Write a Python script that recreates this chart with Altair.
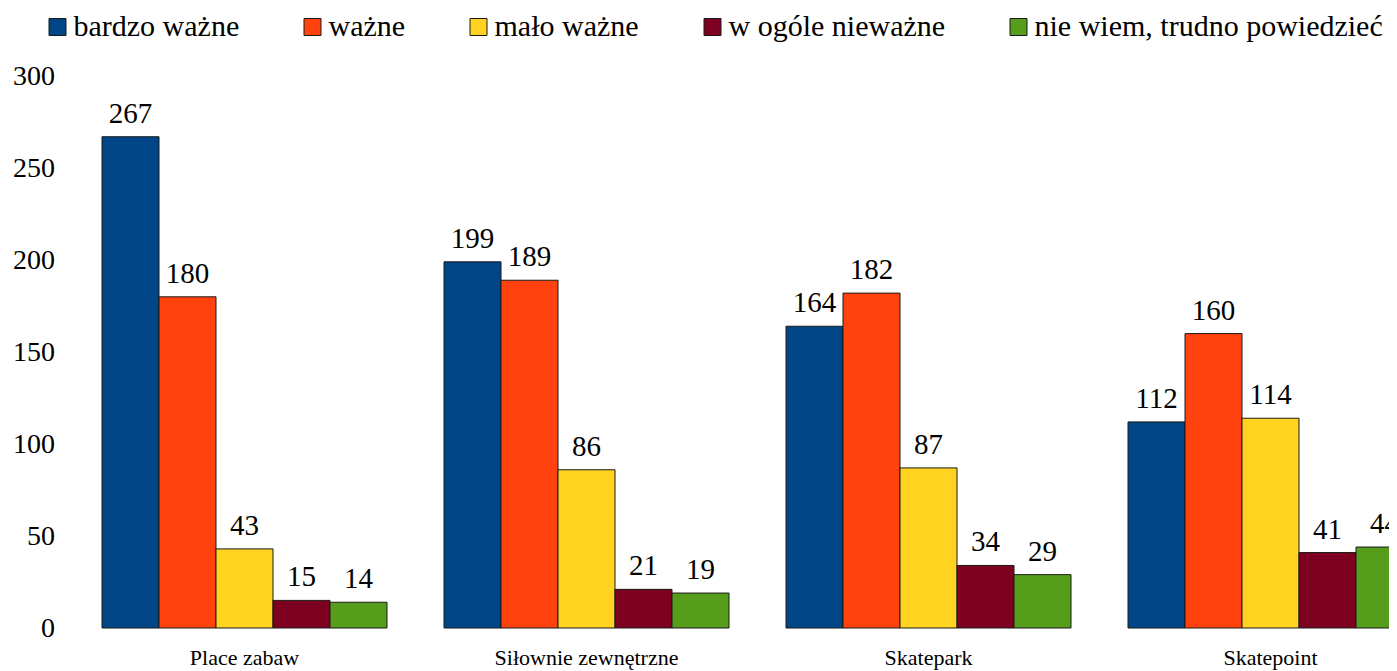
import altair as alt
import pandas as pd

categories = ["Place zabaw", "Siłownie zewnętrzne", "Skatepark", "Skatepoint"]
series = ["bardzo ważne", "ważne", "mało ważne", "w ogóle nieważne", "nie wiem, trudno powiedzieć"]
colors = ["#004586", "#ff420e", "#ffd320", "#7e0021", "#579d1c"]
values = {
    "bardzo ważne": [267, 199, 164, 112],
    "ważne": [180, 189, 182, 160],
    "mało ważne": [43, 86, 87, 114],
    "w ogóle nieważne": [15, 21, 34, 41],
    "nie wiem, trudno powiedzieć": [14, 19, 29, 44],
}

rows = []
for s in series:
    for c, v in zip(categories, values[s]):
        rows.append({"kategoria": c, "seria": s, "wartosc": v})
df = pd.DataFrame(rows)

FONT = "'Liberation Serif', 'Times New Roman', Times, serif"

x_enc = alt.X("kategoria:N", sort=categories,
              scale=alt.Scale(paddingInner=1/6, paddingOuter=1/12, range=[0, 1368]),
              axis=alt.Axis(title=None, labelAngle=0, ticks=False, domain=False,
                            labelFont=FONT, labelFontSize=22, labelColor="black",
                            labelPadding=19, labelLimit=500))
xo_enc = alt.XOffset("seria:N", sort=series, scale=alt.Scale(paddingInner=0, paddingOuter=0))
y_enc = alt.Y("wartosc:Q", scale=alt.Scale(domain=[0, 300], nice=False),
              axis=alt.Axis(title=None, values=[0, 50, 100, 150, 200, 250, 300],
                            grid=False, domain=False, ticks=False,
                            labelFont=FONT, labelFontSize=28, labelColor="black",
                            labelPadding=19))

base = alt.Chart(df)

bars = base.mark_bar(stroke="#1a1a1a", strokeWidth=1).encode(
    x=x_enc, xOffset=xo_enc, y=y_enc,
    color=alt.Color("seria:N", sort=series,
                    scale=alt.Scale(domain=series, range=colors),
                    legend=alt.Legend(title=None, orient="none", direction="horizontal",
                                      legendX=-31, legendY=-64,
                                      symbolType="square", symbolSize=289,
                                      symbolStrokeColor="#1a1a1a", symbolStrokeWidth=1,
                                      symbolOpacity=1,
                                      labelFont=FONT, labelFontSize=30, labelColor="black",
                                      labelOffset=1, columnPadding=58, labelLimit=500)),
)

labels = base.mark_text(font=FONT, fontSize=29, color="black", baseline="alphabetic", dy=-14).encode(
    x=x_enc, xOffset=xo_enc, y=y_enc, text="wartosc:Q"
)

chart = (bars + labels).properties(
    width=1315, height=552,
    autosize=alt.AutoSizeParams(type="none"),
    padding={"left": 65.5, "top": 68, "right": 0, "bottom": 43},
).configure_view(stroke=None)

chart.save("out.html", embed_options={"renderer": "svg", "actions": False})
